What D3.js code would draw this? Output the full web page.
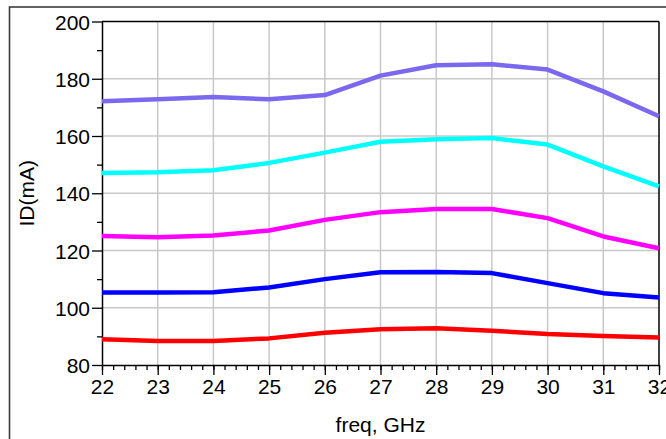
<!DOCTYPE html>
<html>
<head>
<meta charset="utf-8">
<script src="https://cdn.jsdelivr.net/npm/d3@7"></script>
<style>
  body { margin: 0; background: #fff; }
  text { font-family: "Liberation Sans", Arial, sans-serif; fill: #000; }
</style>
</head>
<body>
<div id="chart"></div>
<script>
const width = 666;
const height = 439;
const margin = { top: 21.5, right: 7, bottom: 74, left: 102 };

// freq, GHz
const freq = [22, 23, 24, 25, 26, 27, 28, 29, 30, 31, 32];
// ID (mA) for each curve
const idPurple  = [172.1, 172.8, 173.6, 172.8, 174.3, 181.1, 184.7, 185.1, 183.2, 175.6, 166.9];
const idCyan    = [147.1, 147.3, 148.0, 150.6, 154.2, 158.0, 158.9, 159.3, 157.0, 149.4, 142.4];
const idMagenta = [125.1, 124.6, 125.2, 127.0, 130.7, 133.4, 134.5, 134.5, 131.3, 124.9, 120.8];
const idBlue    = [105.3, 105.3, 105.4, 107.1, 110.0, 112.4, 112.5, 112.1, 108.6, 105.1, 103.6];
const idRed     = [89.0, 88.4, 88.4, 89.3, 91.3, 92.5, 92.8, 92.0, 90.8, 90.1, 89.6];

const seriesNames = ["purple", "cyan", "magenta", "blue", "red"];
const seriesValues = [idPurple, idCyan, idMagenta, idBlue, idRed];
const seriesColors = ["#7b68ee", "#00ffff", "#ff00ff", "#0000ff", "#ff0000"];

const xTicks = [22, 23, 24, 25, 26, 27, 28, 29, 30, 31, 32];
const yTicks = [80, 100, 120, 140, 160, 180, 200];

const svg = d3.select("#chart")
  .append("svg")
  .attr("width", width)
  .attr("height", height);

// outer frame (runs off the window on the right and bottom)
svg.append("rect")
  .attr("x", 9.5)
  .attr("y", 7)
  .attr("width", 700)
  .attr("height", 500)
  .attr("fill", "none")
  .attr("stroke", "#3c3c3c")
  .attr("stroke-width", 1.6);

const x = d3.scaleLinear()
  .domain([22, 32])
  .range([margin.left, width - margin.right]);

const y = d3.scaleLinear()
  .domain([80, 200])
  .range([height - margin.bottom, margin.top]);

// grid
const grid = svg.append("g").attr("stroke", "#c8c8c8").attr("stroke-width", 1.5);
grid.selectAll(".gx")
  .data(xTicks.slice(1, -1))
  .enter()
  .append("line")
  .attr("x1", d => x(d)).attr("x2", d => x(d))
  .attr("y1", y(80)).attr("y2", y(200));
grid.selectAll(".gy")
  .data(yTicks.slice(1, -1))
  .enter()
  .append("line")
  .attr("x1", x(22)).attr("x2", x(32))
  .attr("y1", d => y(d)).attr("y2", d => y(d));

// minor ticks
svg.append("g")
  .attr("transform", `translate(0,${y(80)})`)
  .call(d3.axisBottom(x).tickValues(d3.range(22, 32.01, 0.2)).tickSize(5).tickFormat(""))
  .call(g => g.select(".domain").remove())
  .selectAll("line").attr("stroke", "#000").attr("stroke-width", 1.3);

svg.append("g")
  .attr("transform", `translate(${x(22)},0)`)
  .call(d3.axisLeft(y).tickValues(d3.range(90, 200, 20)).tickSize(5).tickFormat(""))
  .call(g => g.select(".domain").remove())
  .selectAll("line").attr("stroke", "#000").attr("stroke-width", 1.3);

// major axes
const xAxis = svg.append("g")
  .attr("transform", `translate(0,${y(80)})`)
  .call(d3.axisBottom(x).tickValues(xTicks).tickSize(10).tickSizeOuter(0).tickPadding(4).tickFormat(d3.format("d")));

const yAxis = svg.append("g")
  .attr("transform", `translate(${x(22)},0)`)
  .call(d3.axisLeft(y).tickValues(yTicks).tickSize(10).tickSizeOuter(0).tickPadding(2).tickFormat(d3.format("d")));

[xAxis, yAxis].forEach(a => {
  a.select(".domain").attr("stroke", "#000").attr("stroke-width", 1.5);
  a.selectAll("line").attr("stroke", "#000").attr("stroke-width", 1.3);
  a.selectAll("text")
    .attr("fill", "#000")
    .style("font-family", '"Liberation Sans", Arial, sans-serif')
    .style("font-size", "21px");
});
yAxis.selectAll("text").attr("dy", "0.36em");

// right and top border of the plot
svg.append("line")
  .attr("x1", x(32)).attr("x2", x(32))
  .attr("y1", y(80)).attr("y2", y(200))
  .attr("stroke", "#000").attr("stroke-width", 1.5);
svg.append("line")
  .attr("x1", x(22)).attr("x2", x(32))
  .attr("y1", y(200)).attr("y2", y(200))
  .attr("stroke", "#000").attr("stroke-width", 1.5);

// curves
const line = d3.line()
  .x((d, i) => x(freq[i]))
  .y(d => y(d));

svg.selectAll(".curve")
  .data(seriesValues)
  .enter()
  .append("path")
  .attr("class", "curve")
  .attr("d", d => line(d))
  .attr("fill", "none")
  .attr("stroke", (d, i) => seriesColors[i])
  .attr("stroke-width", 4.5)
  .attr("stroke-linejoin", "round");

// axis titles
svg.append("text")
  .attr("x", (x(22) + x(32)) / 2 + 0)
  .attr("y", 432)
  .attr("text-anchor", "middle")
  .style("font-size", "21px")
  .text("freq, GHz");

svg.append("text")
  .attr("transform", `translate(34,${(y(80) + y(200)) / 2 + 0}) rotate(-90)`)
  .attr("text-anchor", "middle")
  .style("font-size", "21px")
  .text("ID(mA)");
</script>
</body>
</html>
